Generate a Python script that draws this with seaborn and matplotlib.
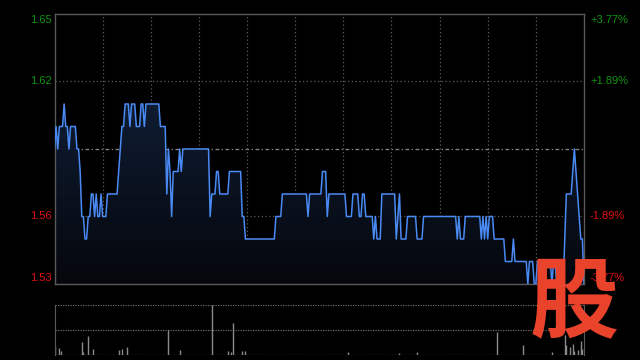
import numpy as np
import pandas as pd
import matplotlib
matplotlib.use("Agg")
import matplotlib.pyplot as plt
import matplotlib.transforms as mtransforms
from matplotlib.colors import LinearSegmentedColormap
import seaborn as sns

# ---- data (1-minute intraday, HK session 330 minutes) ----
price_levels = [1.59, 1.60, 1.59, 1.60, 1.61, 1.60, 1.59, 1.60, 1.59, 1.58,
                1.56, 1.55, 1.56, 1.57, 1.56, 1.57, 1.56, 1.57, 1.56, 1.57,
                1.58, 1.59, 1.60, 1.61, 1.60, 1.61, 1.60, 1.61, 1.60, 1.61,
                1.60, 1.57, 1.59, 1.58, 1.56, 1.58, 1.59, 1.58, 1.59, 1.56,
                1.57, 1.58, 1.57, 1.58, 1.56, 1.55, 1.56, 1.57, 1.56, 1.57,
                1.58, 1.56, 1.57, 1.56, 1.57, 1.56, 1.57, 1.56, 1.55, 1.56,
                1.55, 1.57, 1.55, 1.56, 1.57, 1.55, 1.56, 1.55, 1.56, 1.55,
                1.56, 1.55, 1.56, 1.55, 1.56, 1.55, 1.56, 1.55, 1.56, 1.55,
                1.54, 1.55, 1.54, 1.53, 1.54, 1.53, 1.54, 1.53, 1.54, 1.53,
                1.54, 1.53, 1.55, 1.57, 1.58, 1.59, 1.58, 1.57, 1.56, 1.55,
                1.53]
price_minutes_held = [1, 1, 1, 3, 1, 2, 1, 4, 2, 1,
                      2, 2, 2, 2, 1, 1, 2, 1, 3, 7,
                      1, 1, 2, 3, 1, 3, 3, 2, 1, 9,
                      4, 1, 1, 1, 1, 4, 1, 1, 17, 1,
                      3, 2, 6, 8, 2, 19, 4, 16, 1, 8,
                      3, 1, 11, 4, 4, 2, 2, 5, 1, 1,
                      3, 9, 1, 1, 1, 4, 6, 4, 21, 1,
                      1, 3, 10, 1, 1, 1, 1, 1, 3, 7,
                      5, 1, 8, 1, 3, 2, 9, 1, 2, 1,
                      3, 1, 1, 4, 1, 1, 1, 1, 1, 2,
                      1]
prev_close = 1.59

price_ticks = [1.53, 1.56, 1.62, 1.65]
price_tick_labels = ["1.53", "1.56", "1.62", "1.65"]
pct_tick_labels = ["-3.77%", "-1.89%", "+1.89%", "+3.77%"]
tick_colors = ["#dd1111", "#dd1111", "#129412", "#129412"]
grid_prices = [1.56, 1.62]
grid_minutes = [30, 60, 90, 120, 150, 180, 210, 240, 270, 300]

vol_minutes = [0, 3, 4, 17, 18, 21, 24, 40, 42, 45, 71, 78, 98, 108, 110, 111,
               117, 119, 183, 215, 226, 276, 292, 310, 318, 319, 321, 323, 324,
               326, 328, 329]
vol_values = [18, 14, 8, 26, 6, 38, 12, 10, 12, 16, 50, 10, 100, 8, 6, 64,
              8, 8, 6, 4, 6, 46, 20, 6, 40, 20, 16, 22, 8, 10, 28, 12]

# ---- style ----
sns.set_style("dark")
plt.rcParams["font.family"] = ["Liberation Sans", "Noto Sans CJK SC", "DejaVu Sans"]

price = np.repeat(price_levels, price_minutes_held)
df = pd.DataFrame({"minute": np.arange(len(price)), "price": price})

fig = plt.figure(figsize=(6.4, 3.6), dpi=100, facecolor="black")
ax = fig.add_axes([54.5 / 640, 76 / 360, 529.5 / 640, 270 / 360])
ax.set_facecolor("black")

grid_col = "#5c5c5c"
for gp in grid_prices:
    ax.axhline(gp, color=grid_col, lw=0.9, ls=(0, (1, 2)), zorder=1)
ax.axhline(prev_close, color="#8a8a8a", lw=0.9, ls=(0, (3, 2, 1, 2)), zorder=1)
for gm in grid_minutes:
    ax.axvline(gm, color=grid_col, lw=0.9, ls=(0, (1, 2)), zorder=1)

# gradient fill under the price line
poly = ax.fill_between(df["minute"], df["price"], 1.53, color="none", lw=0)
cmap = LinearSegmentedColormap.from_list("fill", ["#05070c", "#0f1c32"])
grad = np.linspace(0, 1, 256).reshape(-1, 1)
img = ax.imshow(grad, extent=[0, 330, 1.53, max(price_levels)], origin="lower",
                aspect="auto", cmap=cmap, zorder=2)
img.set_clip_path(poly.get_paths()[0], ax.transData)

sns.lineplot(data=df, x="minute", y="price", ax=ax, color="#4a8af4",
             lw=1.1, zorder=3)

ax.set_xlim(0, 330)
ax.set_ylim(1.53, 1.65)
ax.set_xticks([])
ax.set_yticks([])
ax.set_xlabel("")
ax.set_ylabel("")
ax.grid(False)
for s in ax.spines.values():
    s.set_visible(True)
    s.set_color("#5a5a5a")
    s.set_linewidth(1)

trans = mtransforms.blended_transform_factory(ax.transAxes, ax.transData)
for val, lab, pct, col in zip(price_ticks, price_tick_labels, pct_tick_labels, tick_colors):
    dy = -6 if val == max(price_ticks) else (6 if val == min(price_ticks) else 0)
    ax.annotate(lab, xy=(0, val), xycoords=trans, xytext=(-3, dy),
                textcoords="offset pixels", ha="right", va="center",
                color=col, fontsize=8)
    ax.annotate(pct, xy=(1, val), xycoords=trans, xytext=(6, dy),
                textcoords="offset pixels", ha="left", va="center",
                color=col, fontsize=8)

# ---- volume panel ----
ax2 = fig.add_axes([54.5 / 640, 5 / 360, 529.5 / 640, 50 / 360])
ax2.set_facecolor("black")
ax2.vlines(vol_minutes, 0, vol_values, color="#8a8a8a", lw=1)
for gv in [0, 50, 100]:
    ax2.axhline(gv, color="#6a6a6a", lw=0.9, ls=(0, (1, 1)), zorder=1)
ax2.set_xlim(0, 330)
ax2.set_ylim(0, 100)
ax2.set_xticks([])
ax2.set_yticks([])
ax2.grid(False)
for name, s in ax2.spines.items():
    s.set_visible(name in ("left", "right"))
    s.set_color("#5a5a5a")

# ---- watermark logo ----
fig.text(574 / 640, 1 - 304 / 360, "股", fontsize=64, color="#ea432b",
         ha="center", va="center", fontweight="black",
         family=["Noto Sans CJK SC"], zorder=20)

fig.savefig("out.png", dpi=100, facecolor="black")
